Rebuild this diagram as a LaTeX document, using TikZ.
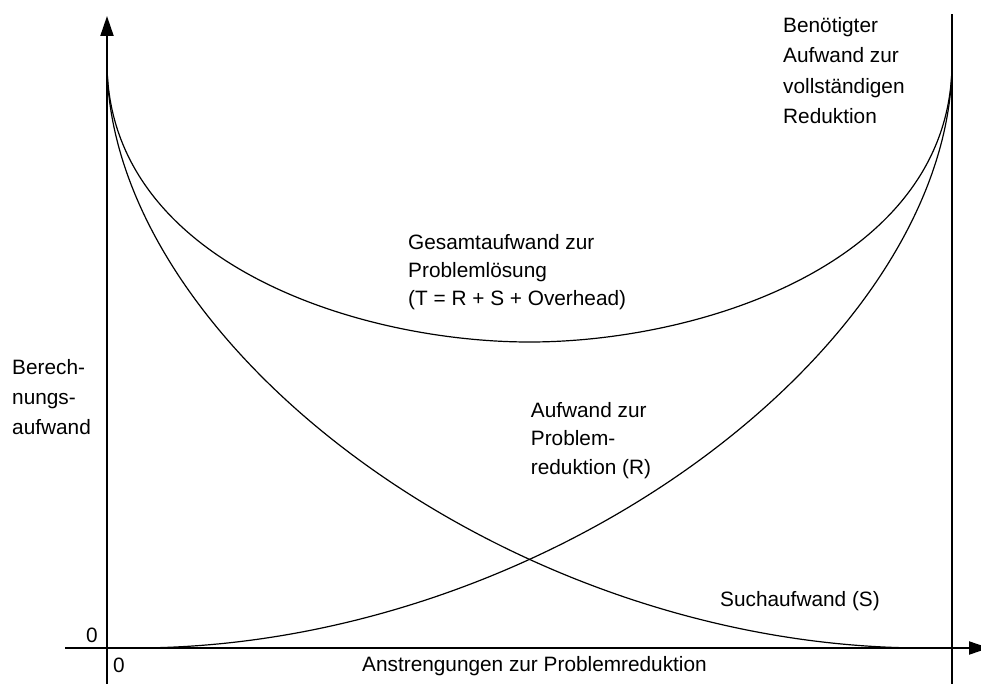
\documentclass[tikz,border=0pt]{standalone}
\usepackage{fontspec}
\setmainfont{Liberation Sans}
\usetikzlibrary{arrows.meta}
\begin{document}
\begin{tikzpicture}[x=1pt,y=-1pt,
  axis/.style={line width=2pt},
  axistip/.style={-{Triangle[length=20pt,width=13pt]}},
  curve/.style={line width=1.2pt},
  lbl/.style={inner sep=0pt, align=left, font=\fontsize{20.8}{#1}\selectfont},
  lbl/.default=29
]
\useasboundingbox (0,0) rectangle (981,684);

% reference points of axes and curves
\coordinate (ybot) at (107,684);
\coordinate (ytop) at (107,16);
\coordinate (xleft) at (65,648);
\coordinate (xright) at (989,648);
\coordinate (rbot) at (952,684);
\coordinate (rtop) at (952,14);
\coordinate (A) at (107,62);
\coordinate (B) at (952,62);
\coordinate (Tmin) at (529.5,342);
\coordinate (Send) at (925,648);
\coordinate (Rstart) at (134,648);

% curves: total effort T, search effort S, reduction effort R
\draw[curve] (A) .. controls (107,262) and (357,342) .. (Tmin)
                 .. controls (702,342) and (952,262) .. (B);
\draw[curve] (A) .. controls (107,342) and (507,648) .. (Send);
\draw[curve] (Rstart) .. controls (552,648) and (952,342) .. (B);

% axes and the line of complete reduction
\draw[axis,axistip] (ybot) -- (ytop);
\draw[axis,axistip] (xleft) -- (xright);
\draw[axis] (rbot) -- (rtop);

% labels
\node[lbl=30.5, anchor=north west] (full) at (783,16.8)
  {Benötigter\\Aufwand zur\\vollständigen\\Reduktion};
\node[lbl=28.3, anchor=north west] (total) at (408,234)
  {Gesamtaufwand zur\\Problemlösung\\(T = R + S + Overhead)};
\node[lbl=30, anchor=north west] (yname) at (12,359)
  {Berech-\\nungs-\\aufwand};
\node[lbl=28.6, anchor=north west] (red) at (530.7,402)
  {Aufwand zur\\Problem-\\reduktion (R)};
\node[lbl, anchor=base west] (search) at (720,606.7) {Suchaufwand (S)};
\node[lbl, anchor=base west] (xname) at (362,671.5) {Anstrengungen zur Problemreduktion};
\node[lbl, anchor=base west] (yzero) at (86,642) {0};
\node[lbl, anchor=base west] (xzero) at (113,672) {0};
\end{tikzpicture}
\end{document}
